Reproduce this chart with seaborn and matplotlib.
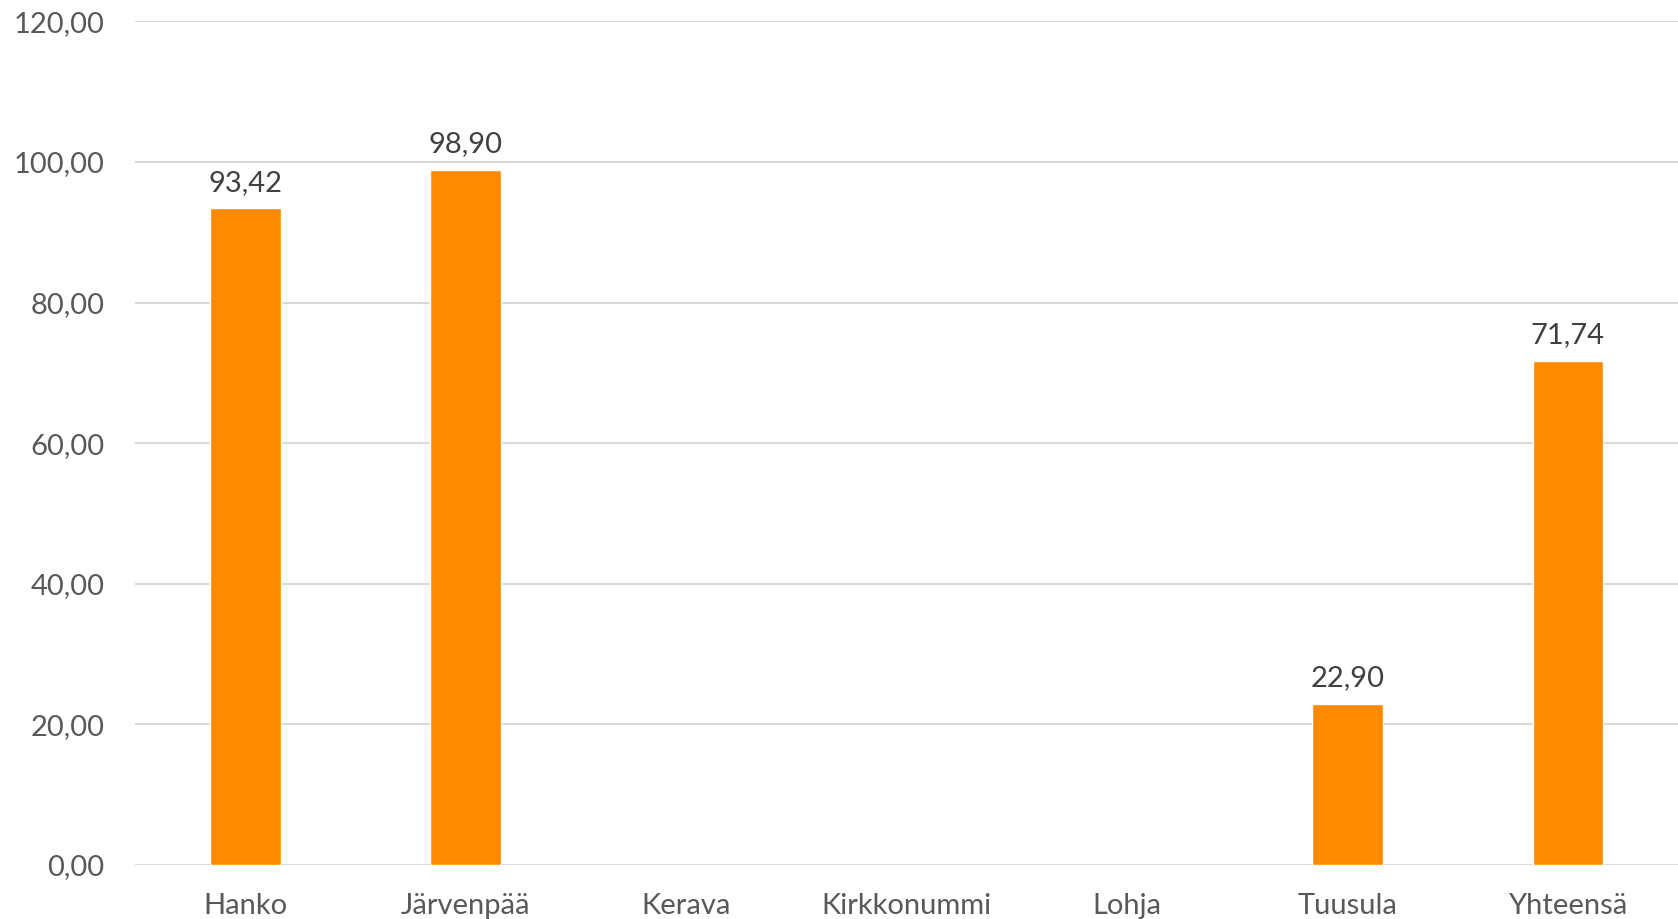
import pandas as pd
import numpy as np
import matplotlib
matplotlib.use('Agg')
import matplotlib.pyplot as plt
import seaborn as sns

# Data
categories = ['Hanko', 'Järvenpää', 'Kerava', 'Kirkkonummi', 'Lohja', 'Tuusula', 'Yhteensä']
values = [93.42, 98.90, np.nan, np.nan, np.nan, 22.90, 71.74]
y_ticks = [0, 20, 40, 60, 80, 100, 120]

df = pd.DataFrame({'kunta': categories, 'arvo': values}).dropna()

sns.set_theme(style='white')
plt.rcParams['font.family'] = ['Lato', 'DejaVu Sans']

fig = plt.figure(figsize=(16.78, 9.19), dpi=100)
ax = fig.add_axes([0.0805, 0.0588, 0.9195, 0.9179])

sns.barplot(data=df, x='kunta', y='arvo', order=categories, width=0.32,
            color='#FF8A00', saturation=1, ax=ax)

ax.set_ylim(0, 120)
ax.set_xlim(-0.5, len(categories) - 0.5)
ax.set_yticks(y_ticks)
ax.set_yticklabels([f'{t:.2f}'.replace('.', ',') for t in y_ticks])
ax.yaxis.grid(True, color='#D9D9D9', linewidth=1.5)
ax.set_axisbelow(True)
for s in ax.spines.values():
    s.set_visible(False)
ax.set_xlabel('')
ax.set_ylabel('')
ax.tick_params(axis='y', length=0, pad=22, labelsize=21, labelcolor='#595959')
ax.tick_params(axis='x', length=0, pad=20, labelsize=21, labelcolor='#595959')

labels = [f'{v:.2f}'.replace('.', ',') for v in df['arvo']]
ax.bar_label(ax.containers[0], labels=labels, padding=9, fontsize=21, color='#404040')

fig.savefig('out.png', dpi=100)
